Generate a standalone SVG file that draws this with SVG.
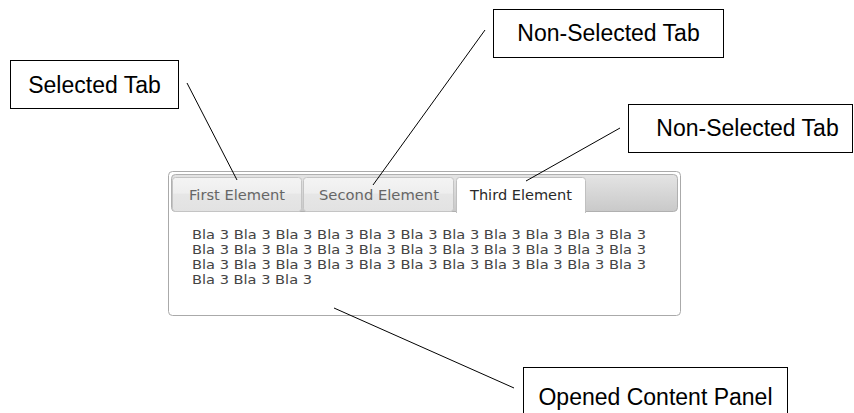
<svg xmlns="http://www.w3.org/2000/svg" width="854" height="413" viewBox="0 0 854 413">
<defs>
<linearGradient id="hdr" x1="0" y1="0" x2="0" y2="1">
<stop offset="0" stop-color="#e4e4e4"/>
<stop offset="1" stop-color="#c9c9c9"/>
</linearGradient>
<linearGradient id="tab" x1="0" y1="0" x2="0" y2="1">
<stop offset="0" stop-color="#f4f4f4"/>
<stop offset="0.45" stop-color="#eeeeee"/>
<stop offset="0.5" stop-color="#e6e6e6"/>
<stop offset="1" stop-color="#e2e2e2"/>
</linearGradient>
</defs>
<style>
.box{fill:#fff;stroke:#000;stroke-width:1}
.lbl{font-family:"Liberation Sans",Arial,sans-serif;font-size:23px;fill:#000}
.tabt{font-family:"DejaVu Sans",sans-serif;font-size:13.5px;fill:#666}
.body{font-family:"DejaVu Sans",sans-serif;font-size:11.5px;fill:#444}
.conn{stroke:#000;stroke-width:1;fill:none}
</style>
<rect width="854" height="413" fill="#fff"/>
<g id="tabs-widget">
<rect x="168.5" y="171.5" width="512" height="144" rx="4" fill="#fff" stroke="#aaa"/>
<rect x="171.5" y="174.5" width="506" height="37" rx="4" fill="url(#hdr)" stroke="#b0b0b0"/>
</g>
<g id="tab-first">
<rect x="172.5" y="177.5" width="129" height="34" rx="3" fill="url(#tab)" stroke="#c4c4c4"/>
<text class="tabt" x="237" y="200" text-anchor="middle" textLength="96" lengthAdjust="spacingAndGlyphs">First Element</text>
</g>
<g id="tab-second">
<rect x="303.5" y="177.5" width="150" height="34" rx="3" fill="url(#tab)" stroke="#c4c4c4"/>
<text class="tabt" x="379" y="200" text-anchor="middle" textLength="120" lengthAdjust="spacingAndGlyphs">Second Element</text>
</g>
<g id="tab-third">
<path d="M456.5 213 V180.5 a3 3 0 0 1 3 -3 H582.5 a3 3 0 0 1 3 3 V213" fill="#fff" stroke="#c0c0c0"/>
<text class="tabt" x="521" y="200" text-anchor="middle" textLength="102" lengthAdjust="spacingAndGlyphs" style="fill:#2a2a2a">Third Element</text>
</g>
<g id="content-panel">
<text class="body" x="192" y="239" textLength="454" lengthAdjust="spacingAndGlyphs">Bla 3 Bla 3 Bla 3 Bla 3 Bla 3 Bla 3 Bla 3 Bla 3 Bla 3 Bla 3 Bla 3</text>
<text class="body" x="192" y="254" textLength="454" lengthAdjust="spacingAndGlyphs">Bla 3 Bla 3 Bla 3 Bla 3 Bla 3 Bla 3 Bla 3 Bla 3 Bla 3 Bla 3 Bla 3</text>
<text class="body" x="192" y="268.5" textLength="454" lengthAdjust="spacingAndGlyphs">Bla 3 Bla 3 Bla 3 Bla 3 Bla 3 Bla 3 Bla 3 Bla 3 Bla 3 Bla 3 Bla 3</text>
<text class="body" x="192" y="283.5" textLength="120" lengthAdjust="spacingAndGlyphs">Bla 3 Bla 3 Bla 3</text>
</g>
<g id="connectors">
<line class="conn" x1="187" y1="83" x2="237" y2="180"/>
<line class="conn" x1="485" y1="30" x2="373" y2="185"/>
<line class="conn" x1="620" y1="128" x2="526" y2="181"/>
<line class="conn" x1="334" y1="308" x2="514" y2="388"/>
</g>
<g id="label-selected">
<rect class="box" x="10.5" y="60.5" width="168" height="48"/>
<text class="lbl" x="94.5" y="92.5" text-anchor="middle">Selected Tab</text>
</g>
<g id="label-nonselected-1">
<rect class="box" x="493.5" y="9.5" width="230" height="48"/>
<text class="lbl" x="608.5" y="41" text-anchor="middle">Non-Selected Tab</text>
</g>
<g id="label-nonselected-2">
<rect class="box" x="628.5" y="104.5" width="224" height="48"/>
<text class="lbl" x="747.5" y="136" text-anchor="middle">Non-Selected Tab</text>
</g>
<g id="label-opened">
<rect class="box" x="523.5" y="367.5" width="264" height="50"/>
<text class="lbl" x="655.5" y="405" text-anchor="middle">Opened Content Panel</text>
</g>
</svg>
